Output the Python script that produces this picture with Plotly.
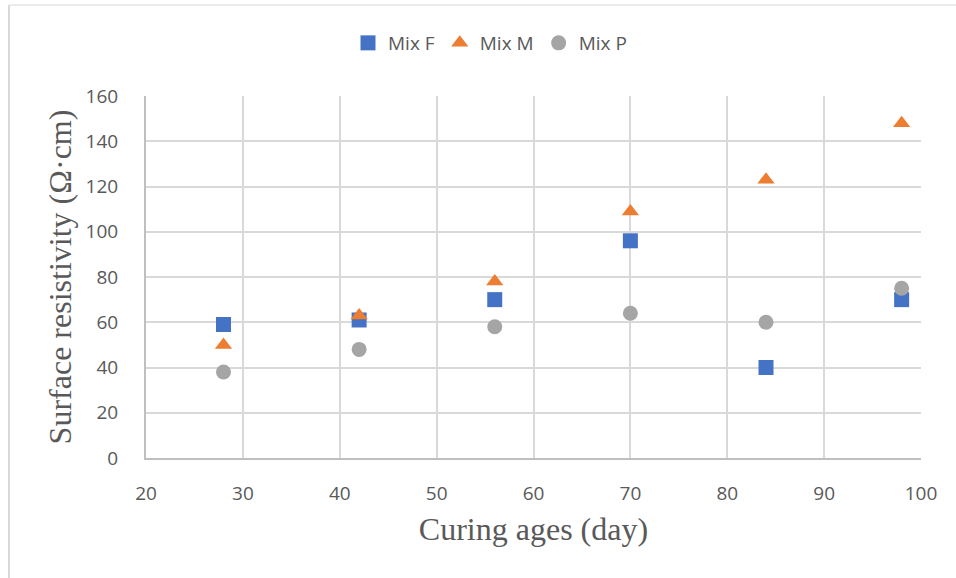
import plotly.graph_objects as go

# Curing age (days) and surface resistivity for each mix
ages = [28, 42, 56, 70, 84, 98]
mix_f = [59, 61, 70, 96, 40, 70]
mix_m = [50, 63, 78, 109, 123, 148]
mix_p = [38, 48, 58, 64, 60, 75]

x_ticks = [20, 30, 40, 50, 60, 70, 80, 90, 100]
y_ticks = [0, 20, 40, 60, 80, 100, 120, 140, 160]

series = [
    ("Mix F", mix_f, "square", "#4472C4"),
    ("Mix M", mix_m, "triangle-up", "#ED7D31"),
    ("Mix P", mix_p, "circle", "#A5A5A5"),
]

fig = go.Figure()
for name, vals, sym, col in series:
    fig.add_trace(go.Scatter(
        x=ages, y=vals, mode="markers", name=name,
        marker=dict(symbol=sym, size=15, color=col, line=dict(width=0)),
    ))

W, H = 956, 578
L, R, T, B = 146, 35, 96, 120
pw, ph = W - L - R, H - T - B

tick_font = dict(family="Open Sans, Liberation Sans, sans-serif", size=19, color="#595959")
title_font = dict(family="Liberation Serif, Times New Roman, serif", size=32, color="#595959")

fig.update_layout(
    width=W, height=H,
    margin=dict(l=L, r=R, t=T, b=B),
    paper_bgcolor="white", plot_bgcolor="white",
    showlegend=True,
    legend=dict(
        orientation="h", x=(348 - L) / pw, xanchor="left", y=1 + (96 - 43) / ph, yanchor="middle",
        font=dict(family="Open Sans, Liberation Sans, sans-serif", size=19, color="#595959"),
        traceorder="normal", itemwidth=30,
    ),
    xaxis=dict(
        range=[20, 100], tickvals=x_ticks, ticktext=[str(v) for v in x_ticks],
        showgrid=True, gridcolor="#D9D9D9", gridwidth=2,
        showline=True, linecolor="#BFBFBF", linewidth=2,
        zeroline=False, ticks="outside", ticklen=17, tickcolor="rgba(0,0,0,0)",
        tickfont=tick_font,
        title=dict(text="Curing ages (day)", standoff=13, font=title_font),
    ),
    yaxis=dict(
        range=[0, 160], tickvals=y_ticks, ticktext=[str(v) for v in y_ticks],
        showgrid=True, gridcolor="#D9D9D9", gridwidth=2,
        showline=True, linecolor="#BFBFBF", linewidth=2,
        zeroline=False, ticks="outside", ticklen=22, tickcolor="rgba(0,0,0,0)",
        tickfont=tick_font,
        title=dict(text="Surface resistivity (Ω·cm)", standoff=4, font=title_font),
    ),
)

# Chart frame edges (left and top)
x_left = (9 - L) / pw
y_top = 1 + (T - 5) / ph
y_bot = -(H - T - ph + 2) / ph
x_right = (W - L) / pw
fig.add_shape(type="line", xref="paper", yref="paper", x0=x_left, x1=x_left, y0=y_bot, y1=y_top,
              line=dict(color="#D9D9D9", width=2))
fig.add_shape(type="line", xref="paper", yref="paper", x0=x_left, x1=x_right, y0=y_top, y1=y_top,
              line=dict(color="#D9D9D9", width=1))

fig.write_html("out.html")
